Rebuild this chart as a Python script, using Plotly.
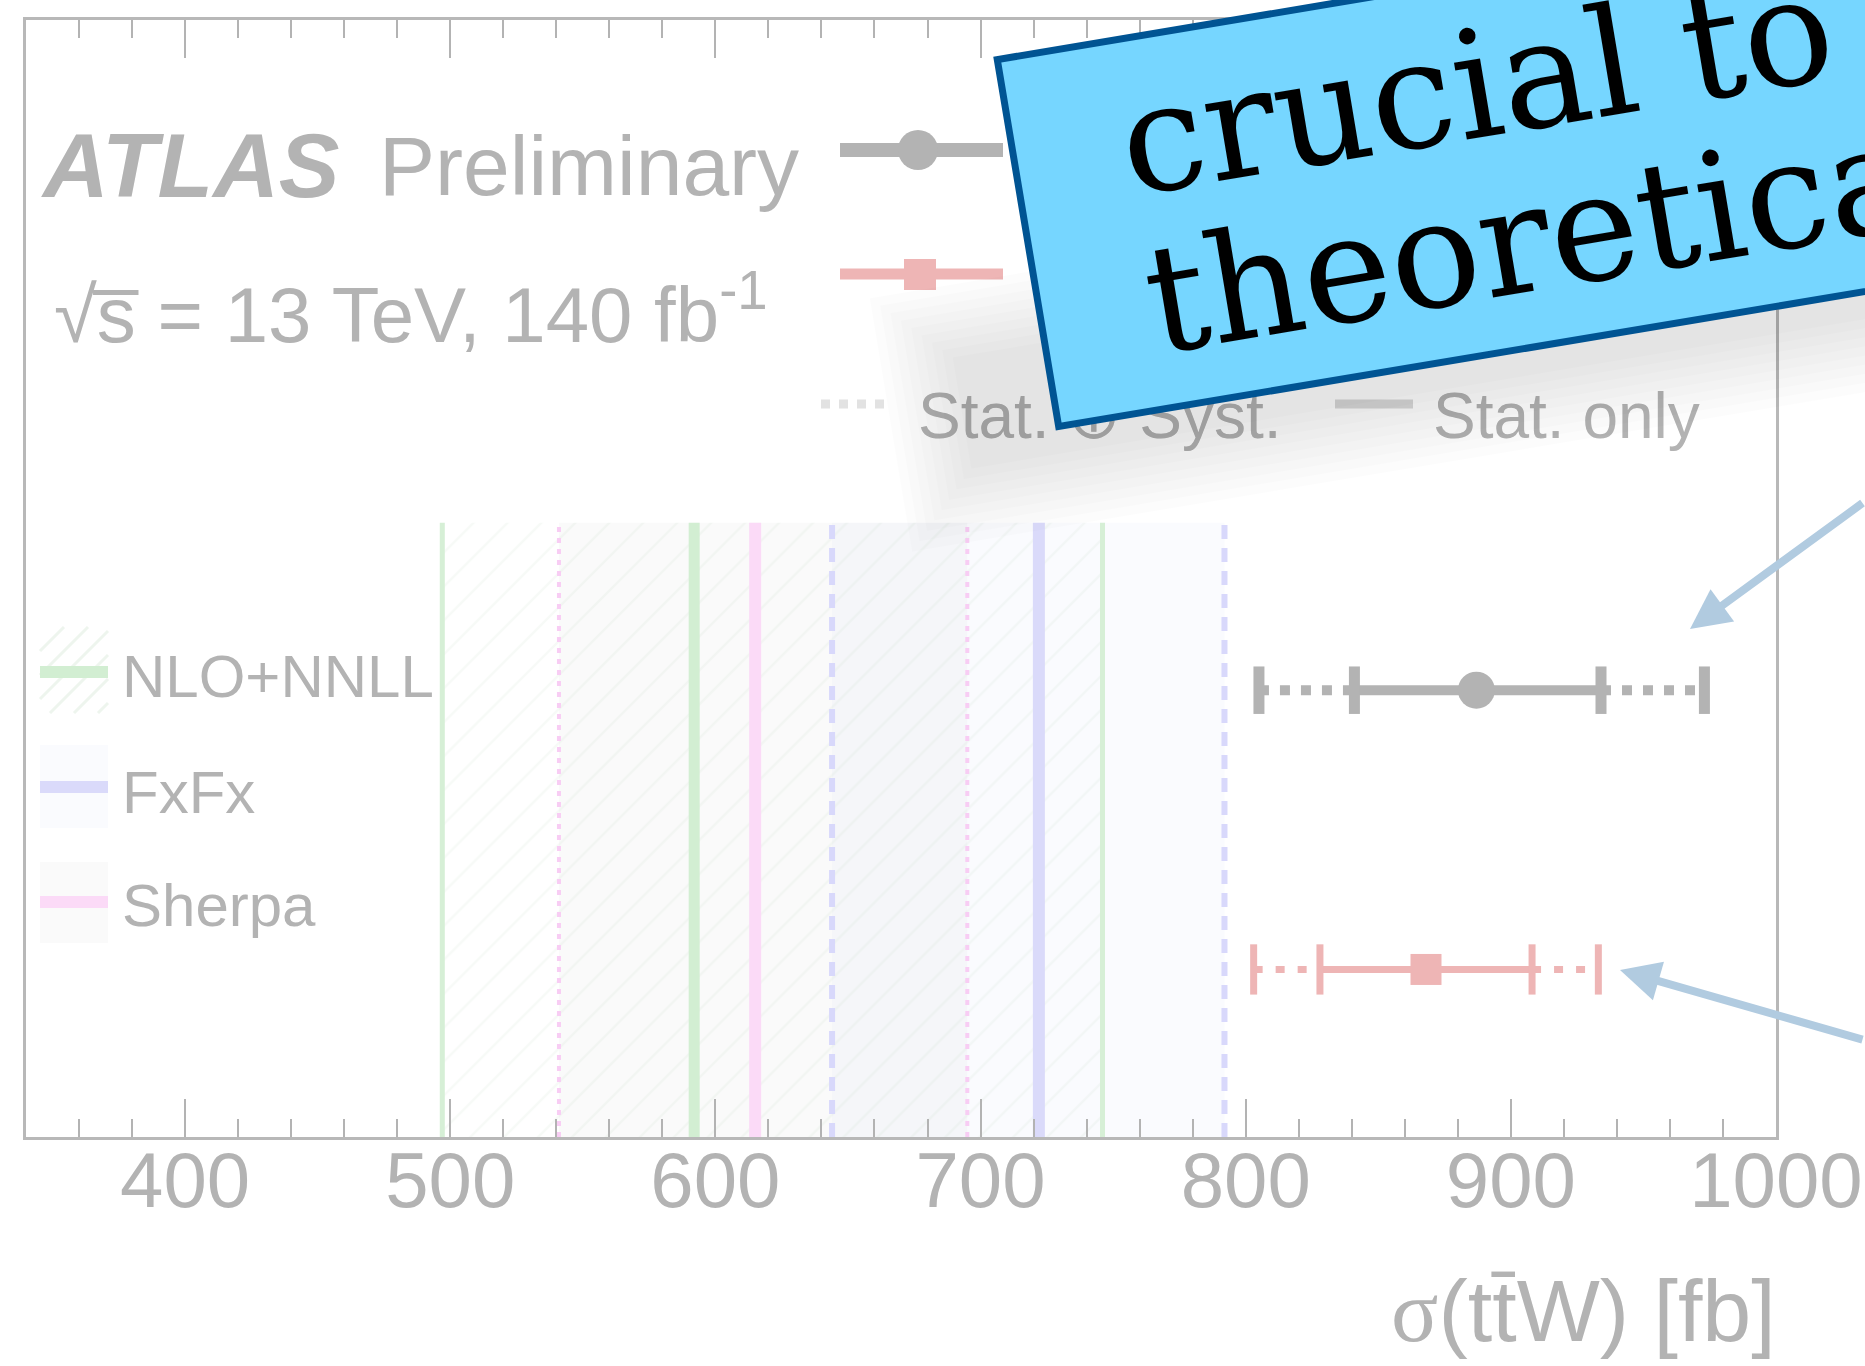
import math
import plotly.graph_objects as go

# ------------------------------------------------------------------ data
x_range = [340, 1000]
y_range = [0.4, 4.4]

theory_names = ["NLO+NNLL", "FxFx", "Sherpa"]
theory_central = [592, 722, 615]
theory_low = [497, 644, 541]
theory_high = [746, 792, 695]
band_y = [0.4, 2.6]

meas_rows = [2.0, 1.0]
meas_central = [887, 868]
meas_stat_low = [841, 828]
meas_stat_high = [934, 908]
meas_tot_low = [805, 803]
meas_tot_high = [973, 933]

# ------------------------------------------------------------------ geometry / style
W, H = 1865, 1366
PX0, PX1, PY0, PY1 = 26, 1776, 20, 1137
GRAY = "#b3b3b3"
FONT = "Liberation Sans"

GREEN, BLUE, PINK = "#d2eed2", "#dadafa", "#fbdaf7"
GREEN_E, BLUE_E, PINK_E = "#d6efd6", "#d8d8fb", "#f8cdf4"
RED = "#eeb5b5"
SHERPA_FILL = "rgba(0,0,0,0.018)"
FXFX_FILL = "rgba(80,100,235,0.026)"


def px(x):
    return (x - PX0) / (PX1 - PX0)


def py(y):
    return (PY1 - y) / (PY1 - PY0)


fig = go.Figure()

# theory bands
def band(i, **kw):
    return go.Scatter(
        x=[theory_low[i], theory_high[i], theory_high[i], theory_low[i], theory_low[i]],
        y=[band_y[0], band_y[0], band_y[1], band_y[1], band_y[0]],
        fill="toself", line=dict(width=0), mode="lines", hoverinfo="skip", **kw)


fig.add_trace(band(2, fillcolor=SHERPA_FILL))
fig.add_trace(band(1, fillcolor=FXFX_FILL))
fig.add_trace(band(0, fillcolor="rgba(0,0,0,0)",
                   fillpattern=dict(shape="/", fgcolor="rgba(150,190,150,0.16)", size=24, solidity=0.1)))

edge_styles = [
    dict(color=GREEN_E, width=5, dash="solid"),
    dict(color=BLUE_E, width=6, dash="14px,9px"),
    dict(color=PINK_E, width=4, dash="5px,6px"),
]
central_styles = [
    dict(color=GREEN, width=11),
    dict(color=BLUE, width=12),
    dict(color=PINK, width=12),
]
for i in range(3):
    fig.add_trace(go.Scatter(
        x=[theory_low[i], theory_low[i], None, theory_high[i], theory_high[i]],
        y=[band_y[0], band_y[1], None, band_y[0], band_y[1]],
        mode="lines", line=edge_styles[i], hoverinfo="skip"))
for i in range(3):
    fig.add_trace(go.Scatter(
        x=[theory_central[i], theory_central[i]], y=band_y,
        mode="lines", line=central_styles[i], hoverinfo="skip"))

# measurements
row_styles = [
    dict(color=GRAY, lw=10, tw=11, h=0.085, dash="10px,11px", symbol="circle", size=37),
    dict(color=RED, lw=7, tw=7, h=0.09, dash="9px,13px", symbol="square", size=31),
]
for i, st in enumerate(row_styles):
    yv = meas_rows[i]
    fig.add_trace(go.Scatter(
        x=[meas_tot_low[i], meas_stat_low[i], None, meas_stat_high[i], meas_tot_high[i]],
        y=[yv, yv, None, yv, yv], mode="lines",
        line=dict(color=st["color"], width=st["lw"], dash=st["dash"]), hoverinfo="skip"))
    fig.add_trace(go.Scatter(
        x=[meas_stat_low[i], meas_stat_high[i]], y=[yv, yv], mode="lines",
        line=dict(color=st["color"], width=st["lw"]), hoverinfo="skip"))
    xs, ys = [], []
    for xv in [meas_tot_low[i], meas_stat_low[i], meas_stat_high[i], meas_tot_high[i]]:
        xs += [xv, xv, None]
        ys += [yv - st["h"], yv + st["h"], None]
    fig.add_trace(go.Scatter(x=xs, y=ys, mode="lines",
                             line=dict(color=st["color"], width=st["tw"]), hoverinfo="skip"))
    fig.add_trace(go.Scatter(
        x=[meas_central[i]], y=[yv], mode="markers",
        marker=dict(symbol=st["symbol"], size=st["size"], color=st["color"], line=dict(width=0)),
        hoverinfo="skip"))

shapes = []
annotations = []


def pline(x0, y0, x1, y1, color, width, dash="solid"):
    shapes.append(dict(type="line", xref="paper", yref="paper",
                       x0=px(x0), y0=py(y0), x1=px(x1), y1=py(y1),
                       line=dict(color=color, width=width, dash=dash)))


def prect(x0, y0, x1, y1, fill):
    shapes.append(dict(type="rect", xref="paper", yref="paper",
                       x0=px(x0), y0=py(y1), x1=px(x1), y1=py(y0),
                       fillcolor=fill, line=dict(width=0)))


def text(x, y, t, size, color=GRAY, family=FONT, xanchor="left"):
    annotations.append(dict(xref="paper", yref="paper", x=px(x), y=py(y), text=t,
                            showarrow=False, xanchor=xanchor, yanchor="middle",
                            font=dict(size=size, color=color, family=family)))


# left legend swatches
def hatch_path(x0, y0, x1, y1, step):
    segs = []
    c = x0 + y0
    while c < x1 + y1:
        xa = max(x0, c - y1)
        xb = min(x1, c - y0)
        if xa < xb:
            segs.append("M%.5f,%.5f L%.5f,%.5f" % (px(xa), py(c - xa), px(xb), py(c - xb)))
        c += step
    return " ".join(segs)


shapes.append(dict(type="path", xref="paper", yref="paper",
                   path=hatch_path(40, 627, 108, 713, 24),
                   line=dict(color="rgba(150,190,150,0.16)", width=3)))
prect(40, 745, 108, 828, FXFX_FILL)
prect(40, 862, 108, 943, SHERPA_FILL)
pline(40, 672, 108, 672, GREEN, 12)
pline(40, 787, 108, 787, BLUE, 12)
pline(40, 902, 108, 902, PINK, 12)
text(120, 676, theory_names[0], 60)
text(120, 792, theory_names[1], 60)
text(120, 905, theory_names[2], 60)

# top labels
text(39, 166, "<b><i>ATLAS</i></b>", 91)
text(377, 166, "Preliminary", 84)
text(52, 309, "√s\u0305 = 13 TeV, 140 fb<sup>-1</sup>", 78)

# top legend glyphs
pline(840, 150, 1003, 150, GRAY, 14)
shapes.append(dict(type="circle", xref="paper", yref="paper",
                   x0=px(898), x1=px(938), y0=py(170), y1=py(130),
                   fillcolor=GRAY, line=dict(width=0)))
pline(840, 274, 1003, 274, RED, 11)
prect(904, 259, 936, 290, RED)
pline(821, 404, 892, 404, "#e2e2e2", 9, "9px,9px")
pline(1335, 404, 1413, 404, "#dcdcdc", 9)
text(916, 416, "Stat. ⊕ Syst.", 64)
text(1431, 416, "Stat. only", 64)

# axis title
text(1778, 1310, "<span style='font-family:Liberation Serif'>σ</span>(tt\u0304W) [fb]",
     88, xanchor="right")

# ---------------------------------------------------------------- callout box
theta = 9.5
ca, sa = math.cos(math.radians(theta)), math.sin(math.radians(theta))
TLx, TLy = 993, 57
BOX_W, BOX_H, BW = 1250, 379, 7


def rot(u, v):
    return TLx + u * ca + v * sa, TLy - u * sa + v * ca


def rbox(u0, v0, u1, v1, **kw):
    cx, cy = rot((u0 + u1) / 2, (v0 + v1) / 2)
    d = dict(xref="paper", yref="paper", x=px(cx), y=py(cy), text=" ",
             showarrow=False, xanchor="center", yanchor="middle",
             width=u1 - u0, height=v1 - v0, borderpad=0, borderwidth=0,
             textangle=-theta)
    d.update(kw)
    annotations.append(d)


# soft shadow along the lower edge
for k in range(1, 10):
    g = 9 * k
    rbox(-80 - g, BOX_H - 80 - g, BOX_W + 100 + g, BOX_H + 15 + g,
         bgcolor="rgba(0,0,0,0.011)")

rbox(BW, BW, BOX_W - BW, BOX_H - BW, bgcolor="#76d6ff", bordercolor="#005493", borderwidth=BW)

LINE_W = 1050
for t, v in [("crucial to", 108), ("theoretical", 268)]:
    lx, ly = rot(112 + LINE_W / 2, v)
    annotations.append(dict(xref="paper", yref="paper", x=px(lx), y=py(ly), text=t,
                            showarrow=False, xanchor="center", yanchor="middle",
                            width=LINE_W, align="left", borderpad=0,
                            font=dict(family="DejaVu Serif", size=150, color="black"),
                            textangle=-theta))

# arrows (tails end at the right edge of the picture)
ARROW = "#b1cbe0"
annotations.append(dict(xref="paper", yref="paper", x=px(1690), y=py(629), text="",
                        showarrow=True, ax=174, ay=-127, arrowhead=2, arrowsize=1,
                        arrowwidth=8, arrowcolor=ARROW, standoff=0))
annotations.append(dict(xref="paper", yref="paper", x=px(1620), y=py(970), text="",
                        showarrow=True, ax=244, ay=70, arrowhead=2, arrowsize=1,
                        arrowwidth=8, arrowcolor=ARROW, standoff=0))

fig.update_layout(
    width=W, height=H, autosize=False,
    margin=dict(l=PX0, r=W - PX1, t=PY0, b=H - PY1, pad=0, autoexpand=False),
    paper_bgcolor="white", plot_bgcolor="white",
    showlegend=False,
    shapes=shapes, annotations=annotations,
    xaxis=dict(range=x_range, dtick=100, tick0=0, ticks="inside", ticklen=38, tickwidth=2,
               tickcolor=GRAY, showline=True, linecolor="#b8b8b8", linewidth=3,
               mirror="ticks", showgrid=False, zeroline=False, ticklabelstandoff=-27,
               automargin=False, ticklabeloverflow="allow",
               minor=dict(dtick=20, ticks="inside", ticklen=18, tickwidth=2, tickcolor=GRAY),
               tickfont=dict(family=FONT, size=78, color=GRAY)),
    yaxis=dict(range=y_range, showticklabels=False, ticks="", showline=True, automargin=False,
               linecolor="#b8b8b8", linewidth=3, mirror=True, showgrid=False, zeroline=False),
)

fig.write_html("out.html", config={"displayModeBar": False, "responsive": False},
               post_script="document.body.style.margin='0';")
